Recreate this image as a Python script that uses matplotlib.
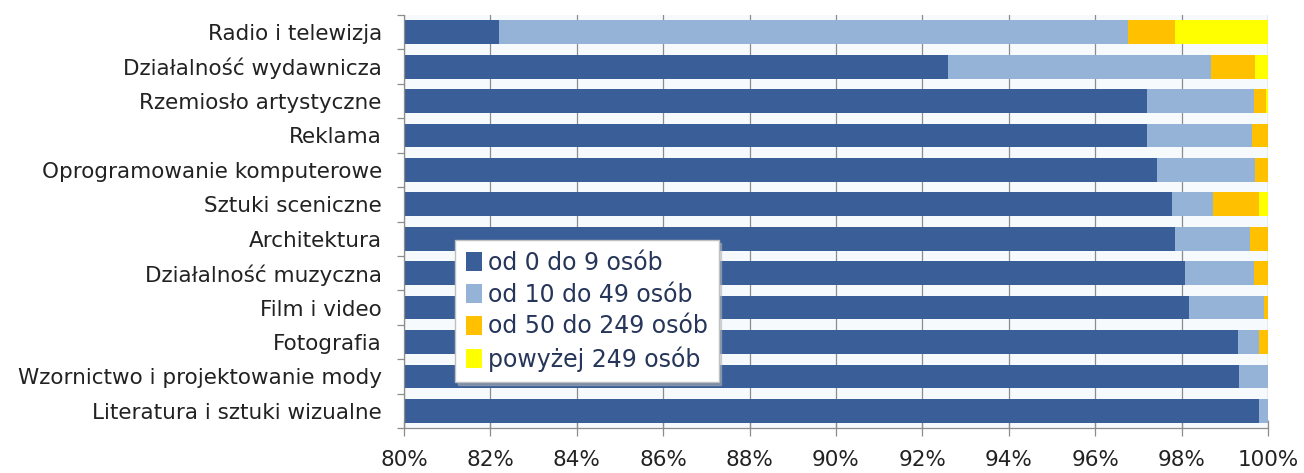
import numpy as np
import matplotlib.pyplot as plt
from matplotlib.patches import Patch

# udział podmiotów wg klasy wielkości (% w danej dziedzinie)
dziedziny = ['Radio i telewizja', 'Działalność wydawnicza', 'Rzemiosło artystyczne',
             'Reklama', 'Oprogramowanie komputerowe', 'Sztuki sceniczne',
             'Architektura', 'Działalność muzyczna', 'Film i video', 'Fotografia',
             'Wzornictwo i projektowanie mody', 'Literatura i sztuki wizualne']

od_0_do_9 = [82.20, 92.60, 97.20, 97.20, 97.44, 97.77, 97.84, 98.08, 98.18, 99.30, 99.33, 99.78]
od_10_do_49 = [14.56, 6.09, 2.48, 2.42, 2.26, 0.96, 1.75, 1.60, 1.72, 0.50, 0.67, 0.22]
od_50_do_249 = [1.09, 1.01, 0.28, 0.38, 0.30, 1.07, 0.41, 0.32, 0.10, 0.20, 0.00, 0.00]
powyzej_249 = [2.15, 0.30, 0.04, 0.00, 0.00, 0.20, 0.00, 0.00, 0.00, 0.00, 0.00, 0.00]

klasy = ['od 0 do 9 osób', 'od 10 do 49 osób', 'od 50 do 249 osób', 'powyżej 249 osób']
kolory = ['#3a5f98', '#95b3d7', '#ffc000', '#ffff00']

xticks = np.arange(80, 101, 2)

fig = plt.figure(figsize=(13.04, 4.73), dpi=100)
ax = fig.add_axes([0.3098, 0.0951, 0.6626, 0.8731])

y = np.arange(len(dziedziny))
left = np.zeros(len(dziedziny))
for vals, kol in zip([od_0_do_9, od_10_do_49, od_50_do_249, powyzej_249], kolory):
    vals = np.array(vals)
    ax.barh(y, vals, left=left, height=0.69, color=kol, zorder=2)
    left += vals

ax.set_xlim(80, 100)
ax.set_ylim(len(dziedziny) - 0.5, -0.5)
ax.set_facecolor('#f7fafd')

ax.set_xticks(xticks)
ax.set_xticklabels(['%d%%' % t for t in xticks])
ax.grid(axis='x', color='#8c8c8c', linewidth=0.9, zorder=0)
ax.set_axisbelow(True)

ax.set_yticks(y)
ax.set_yticklabels(dziedziny)
ax.set_yticks(np.arange(-0.5, len(dziedziny)), minor=True)

for s in ['top', 'right']:
    ax.spines[s].set_visible(False)
for s in ['left', 'bottom']:
    ax.spines[s].set_color('#8c8c8c')
    ax.spines[s].set_linewidth(0.9)

ax.tick_params(axis='x', direction='inout', length=12, width=0.9, color='#8c8c8c',
               labelsize=15.5, labelcolor='#222222', pad=10)
ax.tick_params(axis='y', which='major', length=0, labelsize=15.5,
               labelcolor='#222222', pad=16)
ax.tick_params(axis='y', which='minor', length=5, width=0.9, color='#8c8c8c')

uchwyty = [Patch(facecolor=k, edgecolor='none') for k in kolory]
leg = ax.legend(uchwyty, klasy, loc='upper left', bbox_to_anchor=(0.059, 0.455),
                borderaxespad=0, fancybox=False, framealpha=1, edgecolor='#c0c0c0',
                fontsize=17, labelcolor='#26365a', handlelength=0.7,
                handleheight=0.85, handletextpad=0.25, labelspacing=0.33,
                borderpad=0.45,
                shadow={'color': '#b4b4b4', 'alpha': 0.5, 'ox': 2, 'oy': -2})
leg.set_zorder(5)

fig.savefig('out.png', dpi=100)
